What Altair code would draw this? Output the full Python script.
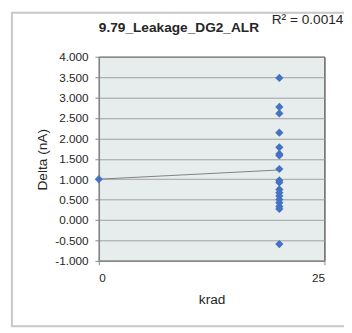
import altair as alt
import pandas as pd

# ---- data ----
krad = [0] + [20] * 18
delta = [1.00, 3.48, 2.77, 2.61, 2.14, 1.78, 1.62, 1.58, 1.25, 0.97, 0.92,
         0.75, 0.67, 0.59, 0.50, 0.42, 0.33, 0.27, -0.59]
y_ticks = [-1.0, -0.5, 0.0, 0.5, 1.0, 1.5, 2.0, 2.5, 3.0, 3.5, 4.0]
x_ticks = [0, 25]
chart_title = "9.79_Leakage_DG2_ALR"
r2_label = "R\u00b2 = 0.0014"

df = pd.DataFrame({"krad": krad, "delta": delta})

FONT = "Liberation Sans"
W, H = 231, 209

x_enc = alt.X("krad:Q", scale=alt.Scale(domain=[0, 25], nice=False),
              axis=alt.Axis(values=x_ticks, tickCount=20, grid=False, title="krad",
                            titleX=115.5, titleY=44, titleBaseline="alphabetic",
                            labelPadding=8, labelOverlap=False))
y_enc = alt.Y("delta:Q", scale=alt.Scale(domain=[-1, 4], nice=False),
              axis=alt.Axis(values=y_ticks, tickCount=20, grid=True, title="Delta (nA)",
                            labelExpr="(datum.value < 0 ? '-' : '') + format(abs(datum.value), '.3f')",
                            titleX=-58, titleY=105, titleAngle=270,
                            titleBaseline="middle", titleAlign="center",
                            labelPadding=7, labelOverlap=False))

points = alt.Chart(df).mark_point(shape="diamond", filled=True, size=70,
                                  color="#4472C4", opacity=1).encode(x=x_enc, y=y_enc)

trend = alt.Chart(df).transform_regression("krad", "delta").mark_line(
    color="#808080", strokeWidth=1).encode(x=x_enc, y=y_enc)

one = alt.Data(values=[{}])
border = alt.Chart(one).mark_rect(fill="transparent", stroke="#C8C8C8", strokeWidth=2).encode(
    x=alt.value(-89), x2=alt.value(262), y=alt.value(-45), y2=alt.value(276))

title_txt = alt.Chart(one).mark_text(text=chart_title, font=FONT, fontSize=14,
                                     fontWeight="bold", color="#262626",
                                     align="center", baseline="alphabetic").encode(
    x=alt.value(82), y=alt.value(-25))

r2_txt = alt.Chart(one).mark_text(text=r2_label, font=FONT, fontSize=14,
                                  color="#262626", align="left",
                                  baseline="alphabetic").encode(
    x=alt.value(177), y=alt.value(-34))

chart = alt.layer(trend, points, border, title_txt, r2_txt).properties(
    width=W, height=H,
    autosize=alt.AutoSizeParams(type="none"),
    padding={"left": 93, "top": 46, "right": 20, "bottom": 70},
).configure_view(
    fill="#E7ECEC", stroke="#1a1a1a", strokeWidth=1
).configure_axis(
    labelFont=FONT, titleFont=FONT, labelFontSize=12, titleFontSize=14,
    titleFontWeight="normal", labelColor="#262626", titleColor="#262626",
    gridColor="#A0A0A0", gridWidth=1, domainColor="#868686", domainWidth=1.5,
    tickColor="#868686", tickSize=4
)

chart.save("out.html", embed_options={"renderer": "svg", "actions": False})
